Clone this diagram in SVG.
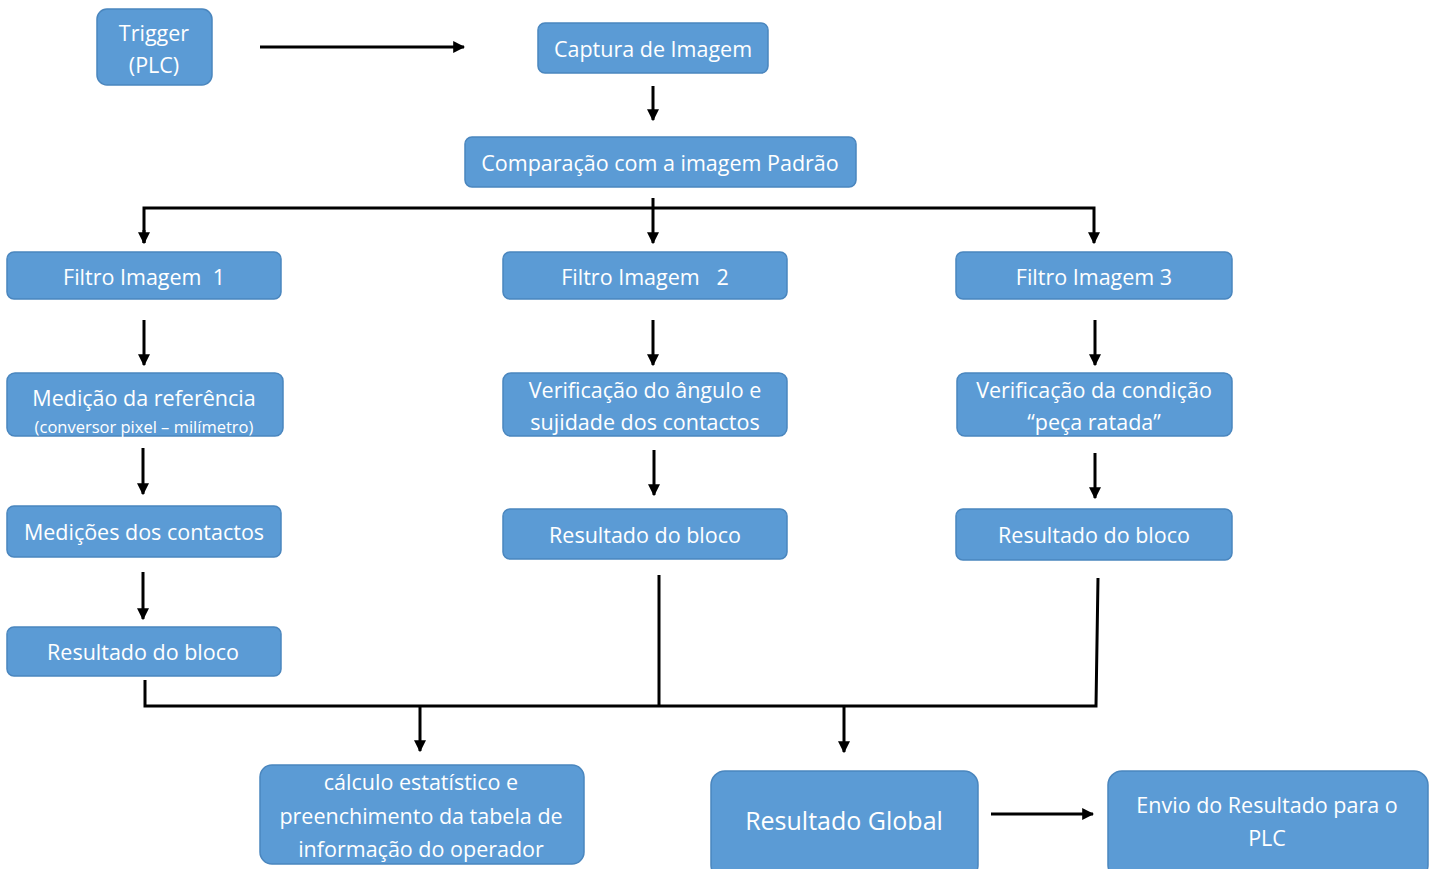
<svg xmlns="http://www.w3.org/2000/svg" width="1435" height="869" viewBox="0 0 1435 869">
<style>
.box{fill:#5B9BD5;stroke:#4A86BE;stroke-width:1.5}
.t{font-family:"Open Sans","Noto Sans",sans-serif;fill:#fff;font-size:21.5px;text-anchor:middle;dominant-baseline:central}
.s{font-size:16.5px}
.big{font-size:25px}
.c{stroke:#000;stroke-width:3;fill:none}
</style>
<defs>
<marker id="ah" viewBox="0 0 10 10" refX="9" refY="5" markerWidth="4" markerHeight="4" orient="auto" markerUnits="strokeWidth">
<path d="M0,0 L10,5 L0,10 z" fill="#000"/>
</marker>
</defs>
<g id="connectors">
<line class="c" x1="260" y1="47" x2="464" y2="47" marker-end="url(#ah)"/>
<line class="c" x1="653" y1="86" x2="653" y2="120" marker-end="url(#ah)"/>
<polyline class="c" points="144,243 144,208 1094,208 1094,243" marker-end="url(#ah)"/>
<line class="c" x1="144" y1="230" x2="144" y2="243" marker-end="url(#ah)"/>
<line class="c" x1="653" y1="198" x2="653" y2="243" marker-end="url(#ah)"/>
<line class="c" x1="144" y1="320" x2="144" y2="365" marker-end="url(#ah)"/>
<line class="c" x1="653" y1="320" x2="653" y2="365" marker-end="url(#ah)"/>
<line class="c" x1="1095" y1="320" x2="1095" y2="365" marker-end="url(#ah)"/>
<line class="c" x1="143" y1="448" x2="143" y2="494" marker-end="url(#ah)"/>
<line class="c" x1="654" y1="450" x2="654" y2="495" marker-end="url(#ah)"/>
<line class="c" x1="1095" y1="453" x2="1095" y2="498" marker-end="url(#ah)"/>
<line class="c" x1="143" y1="572" x2="143" y2="619" marker-end="url(#ah)"/>
<polyline class="c" points="145,680 145,706 1096,706 1098,578"/>
<line class="c" x1="659" y1="575" x2="659" y2="706"/>
<line class="c" x1="420" y1="706" x2="420" y2="751" marker-end="url(#ah)"/>
<line class="c" x1="844" y1="706" x2="844" y2="752" marker-end="url(#ah)"/>
<line class="c" x1="991" y1="814" x2="1093" y2="814" marker-end="url(#ah)"/>
</g>
<g id="trigger"><rect class="box" x="97" y="9" width="115" height="76" rx="10"/><text class="t" x="154" y="32">Trigger</text><text class="t" x="154" y="64">(PLC)</text></g>
<g id="captura"><rect class="box" x="538" y="23" width="230" height="50" rx="7"/><text class="t" x="653" y="48">Captura de Imagem</text></g>
<g id="comparacao"><rect class="box" x="465" y="137" width="391" height="50" rx="7"/><text class="t" x="660" y="162">Comparação com a imagem Padrão</text></g>
<g id="filtro1"><rect class="box" x="7" y="252" width="274" height="47" rx="7"/><text class="t" x="144" y="276" xml:space="preserve">Filtro Imagem  1</text></g>
<g id="filtro2"><rect class="box" x="503" y="252" width="284" height="47" rx="7"/><text class="t" x="645" y="276" xml:space="preserve">Filtro Imagem   2</text></g>
<g id="filtro3"><rect class="box" x="956" y="252" width="276" height="47" rx="7"/><text class="t" x="1094" y="276">Filtro Imagem 3</text></g>
<g id="medicao-ref"><rect class="box" x="7" y="373" width="276" height="63" rx="8"/><text class="t" x="144" y="397">Medição da referência</text><text class="t s" x="144" y="426">(conversor pixel – milímetro)</text></g>
<g id="verif-angulo"><rect class="box" x="503" y="373" width="284" height="63" rx="8"/><text class="t" x="645" y="389">Verificação do ângulo e</text><text class="t" x="645" y="421">sujidade dos contactos</text></g>
<g id="verif-condicao"><rect class="box" x="957" y="373" width="275" height="63" rx="8"/><text class="t" x="1094" y="389">Verificação da condição</text><text class="t" x="1094" y="421">“peça ratada”</text></g>
<g id="medicoes-contactos"><rect class="box" x="7" y="506" width="274" height="51" rx="7"/><text class="t" x="144" y="531">Medições dos contactos</text></g>
<g id="resultado2"><rect class="box" x="503" y="509" width="284" height="50" rx="7"/><text class="t" x="645" y="534">Resultado do bloco</text></g>
<g id="resultado3"><rect class="box" x="956" y="509" width="276" height="51" rx="7"/><text class="t" x="1094" y="534">Resultado do bloco</text></g>
<g id="resultado1"><rect class="box" x="7" y="627" width="274" height="49" rx="7"/><text class="t" x="143" y="651">Resultado do bloco</text></g>
<g id="calculo"><rect class="box" x="260" y="765" width="324" height="99" rx="12"/><text class="t" x="421" y="781">cálculo estatístico e</text><text class="t" x="421" y="815">preenchimento da tabela de</text><text class="t" x="421" y="848">informação do operador</text></g>
<g id="resultado-global"><rect class="box" x="711" y="771" width="267" height="108" rx="14"/><text class="t big" x="844" y="820">Resultado Global</text></g>
<g id="envio"><rect class="box" x="1108" y="771" width="320" height="108" rx="14"/><text class="t" x="1267" y="804">Envio do Resultado para o</text><text class="t" x="1267" y="837">PLC</text></g>
</svg>
